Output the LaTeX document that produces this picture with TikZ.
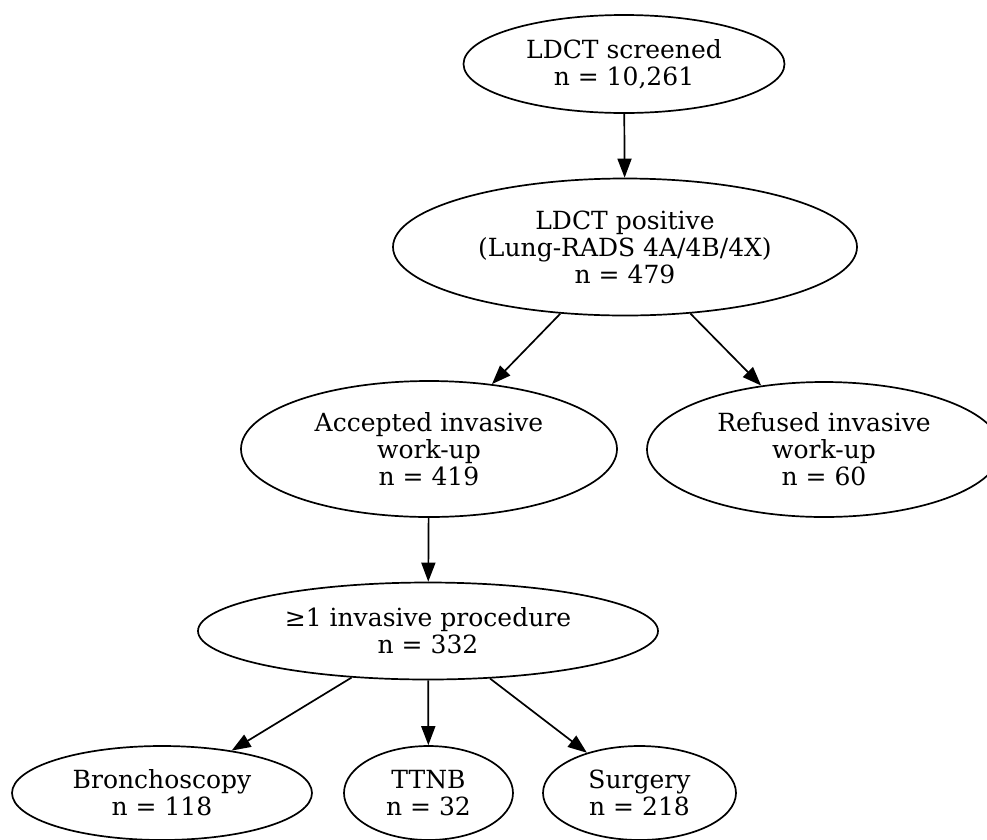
\documentclass[tikz,border=0pt]{standalone}
\usepackage{fontspec}
\setmainfont{DejaVu Serif}
\usetikzlibrary{shapes.geometric,arrows.meta}
\begin{document}
\begin{tikzpicture}[x=1pt,y=-1pt,
  box/.style={ellipse,draw,line width=1.7pt,inner sep=0pt,align=center,
    font=\fontsize{25}{27}\selectfont},
  conn/.style={draw,line width=1.7pt,-{Triangle[length=19pt,width=14pt]}}]
\useasboundingbox (0,0) rectangle (987,839);
\node[box,minimum width=321pt,minimum height=98pt] (top) at (624,64) {LDCT screened\\n = 10,261};
\node[box,minimum width=464pt,minimum height=137pt] (pos) at (625,247) {LDCT positive\\(Lung-RADS 4A/4B/4X)\\n = 479};
\node[box,minimum width=376pt,minimum height=136pt] (acc) at (429,449) {Accepted invasive\\work-up\\n = 419};
\node[box,minimum width=354pt,minimum height=135pt] (ref) at (824,449.5) {Refused invasive\\work-up\\n = 60};
\node[box,minimum width=460pt,minimum height=97pt] (proc) at (428,631) {≥1 invasive procedure\\n = 332};
\node[box,minimum width=300pt,minimum height=94pt] (bron) at (162,793) {Bronchoscopy\\n = 118};
\node[box,minimum width=169pt,minimum height=94pt] (ttnb) at (428.5,793) {TTNB\\n = 32};
\node[box,minimum width=193pt,minimum height=94pt] (surg) at (639.5,793) {Surgery\\n = 218};
\draw[conn] (top) -- (pos);
\draw[conn] (pos) -- (acc);
\draw[conn] (pos) -- (ref);
\draw[conn] (acc) -- (proc);
\draw[conn] (proc) -- (bron);
\draw[conn] (proc) -- (ttnb);
\draw[conn] (proc) -- (surg);
\end{tikzpicture}
\end{document}
